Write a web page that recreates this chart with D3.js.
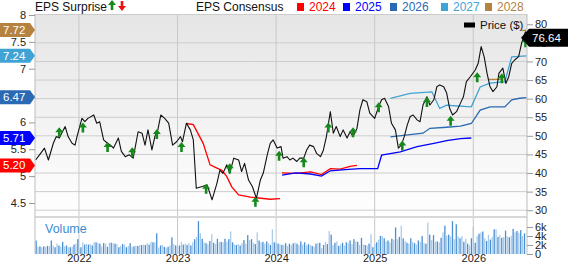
<!DOCTYPE html>
<html>
<head>
<meta charset="utf-8">
<script src="https://cdn.jsdelivr.net/npm/d3@7"></script>
<style>
  body { margin: 0; background: #fff; }
  svg { display: block; font-family: "Liberation Sans", Arial, sans-serif; }
</style>
</head>
<body>
<svg id="chart" width="568" height="264"></svg>
<script>
// price, weekly-ish points: [decimal year, $]
const price = [
  [2021.56,43.5],[2021.60,44.9],[2021.65,46.7],[2021.69,43.5],[2021.74,48.0],[2021.77,49.8],[2021.80,49.4],
  [2021.86,52.5],[2021.89,49.8],[2021.93,48.0],[2021.96,47.5],[2021.98,49.8],[2022.03,54.7],[2022.06,53.8],
  [2022.09,54.7],[2022.15,55.6],[2022.18,53.4],[2022.21,53.8],[2022.25,48.9],[2022.29,48.0],[2022.32,47.5],
  [2022.35,46.7],[2022.40,49.4],[2022.43,45.8],[2022.47,44.4],[2022.51,44.9],[2022.55,44.0],[2022.60,51.1],
  [2022.64,50.7],[2022.67,47.5],[2022.70,51.6],[2022.74,46.2],[2022.77,49.8],[2022.80,51.6],[2022.83,55.6],
  [2022.87,54.7],[2022.91,53.4],[2022.95,47.5],[2022.99,48.4],[2023.03,49.8],[2023.05,48.4],[2023.09,53.4],
  [2023.13,51.6],[2023.16,48.9],[2023.19,35.9],[2023.25,36.4],[2023.30,36.8],[2023.35,32.8],[2023.40,37.3],
  [2023.43,40.8],[2023.46,39.9],[2023.50,42.2],[2023.53,39.9],[2023.57,44.0],[2023.62,43.5],[2023.65,40.4],
  [2023.68,42.6],[2023.72,38.1],[2023.76,36.3],[2023.80,33.2],[2023.84,38.1],[2023.87,40.0],[2023.91,44.9],
  [2023.94,48.0],[2023.97,48.9],[2024.01,46.7],[2024.05,47.1],[2024.07,44.0],[2024.11,44.4],[2024.14,43.5],
  [2024.17,44.0],[2024.21,43.1],[2024.24,44.0],[2024.28,44.0],[2024.31,46.2],[2024.34,47.5],[2024.38,47.1],
  [2024.41,45.3],[2024.45,44.4],[2024.48,46.2],[2024.51,49.8],[2024.55,56.5],[2024.58,50.7],[2024.61,52.5],
  [2024.65,49.8],[2024.68,51.6],[2024.72,49.4],[2024.75,51.1],[2024.78,49.8],[2024.82,52.0],[2024.85,57.0],
  [2024.88,59.7],[2024.92,59.2],[2024.95,56.1],[2025.00,54.7],[2025.04,57.9],[2025.07,59.7],[2025.10,60.1],
  [2025.14,57.9],[2025.17,53.4],[2025.21,51.6],[2025.24,46.7],[2025.27,47.5],[2025.30,49.8],[2025.33,52.9],
  [2025.36,55.2],[2025.39,55.6],[2025.43,54.3],[2025.46,53.8],[2025.49,58.3],[2025.53,60.5],[2025.56,58.3],
  [2025.60,59.7],[2025.63,63.2],[2025.66,63.7],[2025.70,63.2],[2025.73,61.5],[2025.76,57.4],[2025.79,55.6],
  [2025.83,56.5],[2025.87,58.8],[2025.90,60.5],[2025.93,64.6],[2025.97,65.9],[2026.02,67.7],[2026.05,69.5],
  [2026.08,74.0],[2026.11,71.3],[2026.14,66.8],[2026.17,63.2],[2026.20,61.9],[2026.24,63.2],[2026.26,66.8],
  [2026.30,68.2],[2026.33,64.1],[2026.36,65.9],[2026.39,69.5],[2026.42,70.4],[2026.46,71.3],[2026.49,74.9],
  [2026.53,78.0],[2026.54,76.64]
];

// EPS consensus by fiscal year (null = gap)
const eps2024 = [[2023.09,5.98],[2023.16,5.96],[2023.26,5.61],[2023.33,5.21],[2023.40,5.15],[2023.45,5.11],
  [2023.50,4.99],[2023.55,4.80],[2023.62,4.65],[2023.74,4.61],[2023.94,4.57],[2024.04,4.58],null,
  [2024.06,5.06],[2024.20,5.05],[2024.35,5.08],[2024.46,5.03],[2024.55,5.14],[2024.65,5.13],[2024.75,5.18],[2024.82,5.20]];
const eps2025 = [[2024.06,5.02],[2024.20,5.06],[2024.35,5.04],[2024.46,5.00],[2024.55,5.10],[2024.70,5.12],
  [2024.85,5.14],[2025.03,5.14],[2025.07,5.39],[2025.26,5.45],[2025.43,5.55],[2025.60,5.61],[2025.73,5.66],
  [2025.87,5.70],[2025.98,5.71]];
const eps2026 = [[2025.16,5.73],[2025.49,5.80],[2025.56,5.89],[2025.73,5.91],[2025.87,5.93],[2025.98,5.98],
  [2026.07,6.23],[2026.17,6.29],[2026.32,6.29],[2026.39,6.42],[2026.47,6.45],[2026.54,6.46]];
const eps2027 = [[2025.16,6.45],[2025.36,6.54],[2025.58,6.57],[2025.66,6.26],[2025.73,6.32],[2025.98,6.29],
  [2026.07,6.66],[2026.17,6.73],[2026.32,6.76],[2026.39,7.22],[2026.54,7.24]];
const eps2028 = [[2026.15,6.80],[2026.30,6.80],null,[2026.49,7.71],[2026.54,7.72]];

const epsYears = ["2024", "2025", "2026", "2027", "2028"];
const epsColors = ["#ff0000", "#0000ff", "#2a69b4", "#3fa3d6", "#b5823f"];
const epsLatest = [5.20, 5.71, 6.47, 7.24, 7.72];

// EPS surprise arrows (all beats): [date, price level]
const surprises = [[2021.80,50.7],[2022.04,52.0],[2022.29,46.7],[2022.54,45.3],[2022.79,50.2],[2023.04,46.7],
  [2023.29,35.5],[2023.53,41.0],[2023.79,32.0],[2024.03,44.4],[2024.28,42.6],[2024.53,52.0],[2024.78,50.7],
  [2025.04,57.4],[2025.28,47.1],[2025.53,58.8],[2025.77,53.8],[2026.04,65.5],[2026.29,65.2],[2026.53,74.9]];

// weekly volume in thousands, one block per year
const vol2021 = [3.0,1.6,1.7,1.5,1.7,1.6,1.8,1.7,3.0,1.9,1.5,2.3,1.9,1.6,2.7,1.7,1.9,1.5,1.5,1.6,2.1,2.3,3.3];
const vol2022 = [1.2,1.5,2.6,2.1,2.2,2.1,2.2,1.9,2.6,2.6,2.4,2.3,1.7,2.4,2.3,1.6,2.5,2.5,2.4,2.3,
  2.2,1.5,1.8,2.2,2.1,1.5,1.8,2.4,1.6,1.7,1.8,1.8,2.0,2.0,2.1,2.0,2.4,2.1,2.7,2.6,
  2.6,4.6,1.4,1.9,2.0,1.6,1.4,1.6,1.9,3.7,2.2,1.9];
const vol2023 = [1.6,1.9,2.7,2.1,2.3,2.0,2.4,1.9,2.6,3.3,3.8,7.3,4.6,3.4,2.6,2.4,2.2,2.9,4.4,2.5,
  2.2,3.4,2.6,2.7,2.6,3.4,2.7,3.3,5.0,2.6,2.1,2.0,2.2,1.9,2.4,3.1,2.3,4.2,3.1,3.3,
  2.5,2.2,4.8,3.0,2.6,2.7,2.3,2.8,2.4,2.0,5.5,2.6];
const vol2024 = [2.5,2.3,2.2,2.0,2.1,2.4,1.8,2.3,2.0,2.4,2.5,2.3,2.0,2.8,2.1,2.6,1.9,2.2,2.0,1.8,
  1.6,2.3,2.4,2.5,1.3,2.0,2.7,2.2,5.1,4.3,2.0,2.5,2.8,1.8,2.1,2.5,1.9,2.6,2.4,3.0,
  2.2,3.3,2.8,2.7,2.0,3.6,2.1,2.0,1.9,2.3,4.4,1.5];
const vol2025 = [2.2,2.6,3.2,4.0,4.0,3.5,2.8,3.0,2.6,3.4,3.2,5.9,3.3,3.8,6.3,3.5,2.9,2.5,2.3,3.5,
  2.7,2.4,2.1,3.0,2.7,4.0,2.4,2.3,7.0,4.3,3.1,4.2,2.7,2.8,2.6,3.6,4.8,6.3,4.1,4.3,
  3.9,7.3,3.3,6.6,3.9,3.5,4.0,2.7,3.4,2.3,1.9,3.5];
const vol2026 = [6.0,2.5,4.0,4.5,4.8,5.0,3.5,2.9,4.3,3.2,3.8,5.5,5.5,3.8,4.2,3.6,3.8,5.2,3.9,3.7,
  4.0,5.6,4.8,5.1,4.7,5.3,4.0,4.6];
const volStarts = [2021.565, 2022, 2023, 2024, 2025, 2026];

const years = [2022, 2023, 2024, 2025, 2026];
const priceTicks = [30, 35, 40, 45, 50, 55, 60, 65, 70, 75, 80];
const epsTicks = [4.5, 5, 5.5, 6, 6.5, 7, 7.5, 8];
const volTicks = [0, 2, 4, 6];
const lastPrice = 76.64;

// layout
const L = 35, R = 527, T = 14, SEP = 217, B = 254;

const svg = d3.select("#chart");

const x = d3.scaleLinear().domain([2021.554, 2026.545]).range([L, R]);
const yPrice = d3.scaleLinear().domain([30, 80]).range([210.2, 24.3]);
const yEps = d3.scaleLinear().domain([4.5, 8]).range([203, 15]);
const yVol = d3.scaleLinear().domain([0, 6]).range([B, 227]);

// background
const grad = svg.append("defs").append("linearGradient")
    .attr("id", "bg").attr("x1", 0).attr("y1", 0).attr("x2", 0).attr("y2", 1);
grad.append("stop").attr("offset", "0%").attr("stop-color", "#e5e5e5");
grad.append("stop").attr("offset", "100%").attr("stop-color", "#ffffff");

svg.append("rect").attr("x", L).attr("y", T).attr("width", R - L).attr("height", SEP - T)
    .attr("fill", "url(#bg)");

// grid
svg.append("g").selectAll("line")
    .data(priceTicks.filter(d => d < 80))
  .enter().append("line")
    .attr("x1", L).attr("x2", R)
    .attr("y1", d => yPrice(d)).attr("y2", d => yPrice(d))
    .attr("stroke", "#cdcdcd").attr("stroke-width", 1);

svg.append("g").selectAll("line")
    .data(years)
  .enter().append("line")
    .attr("x1", d => x(d)).attr("x2", d => x(d))
    .attr("y1", T).attr("y2", B)
    .attr("stroke", "#c8c8c8").attr("stroke-width", 1);

svg.append("line").attr("x1", L).attr("x2", R).attr("y1", T + 0.5).attr("y2", T + 0.5)
    .attr("stroke", "#cccccc");
svg.append("line").attr("x1", L).attr("x2", R).attr("y1", SEP).attr("y2", SEP)
    .attr("stroke", "#d8d8d8").attr("stroke-width", 2);

// volume bars
const volBlocks = [vol2021, vol2022, vol2023, vol2024, vol2025, vol2026];
const volData = [];
volBlocks.forEach((arr, b) => arr.forEach((v, i) => volData.push({ t: volStarts[b] + i / 52, v: v, i: volData.length })));

svg.append("g").selectAll("rect")
    .data(volData)
  .enter().append("rect")
    .attr("x", d => x(d.t) - 0.6)
    .attr("y", d => yVol(d.v))
    .attr("width", 1.3)
    .attr("height", d => B - yVol(d.v))
    .attr("fill", d => d.i % 2 ? "#a9cbea" : "#4a8fd2");

svg.append("text").attr("x", 45).attr("y", 233)
    .attr("font-size", 12.5).attr("fill", "#3b8cd3").text("Volume");

// EPS consensus lines
const epsLine = d3.line()
    .defined(d => d)
    .x(d => x(d[0]))
    .y(d => yEps(d[1]));

[eps2024, eps2025, eps2026, eps2027, eps2028].forEach((s, i) => {
  svg.append("path").datum(s)
    .attr("d", epsLine)
    .attr("fill", "none")
    .attr("stroke", epsColors[i])
    .attr("stroke-width", 1.3);
});

// price line
const priceLine = d3.line()
    .x(d => x(d[0]))
    .y(d => yPrice(d[1]));

svg.append("path").datum(price)
    .attr("d", priceLine)
    .attr("fill", "none")
    .attr("stroke", "#111")
    .attr("stroke-width", 1.1)
    .attr("stroke-linejoin", "round");

// surprise arrows
function upArrow(cx, cy) {
  return `M${cx},${cy - 6} L${cx + 4},${cy - 1} L${cx + 1.3},${cy - 1} L${cx + 1.3},${cy + 4}` +
         ` L${cx - 1.3},${cy + 4} L${cx - 1.3},${cy - 1} L${cx - 4},${cy - 1} Z`;
}
function downArrow(cx, cy) {
  return `M${cx},${cy + 6} L${cx + 4},${cy + 1} L${cx + 1.3},${cy + 1} L${cx + 1.3},${cy - 4}` +
         ` L${cx - 1.3},${cy - 4} L${cx - 1.3},${cy + 1} L${cx - 4},${cy + 1} Z`;
}

svg.append("g").selectAll("path")
    .data(surprises)
  .enter().append("path")
    .attr("d", d => upArrow(x(d[0]), yPrice(d[1])))
    .attr("fill", "#15891a");

// frame lines
svg.append("line").attr("x1", L).attr("x2", L).attr("y1", T).attr("y2", B).attr("stroke", "#bdbdbd");
svg.append("line").attr("x1", R).attr("x2", R).attr("y1", T).attr("y2", B).attr("stroke", "#bdbdbd");

// axes
function styleAxis(g) {
  g.select(".domain").remove();
  g.selectAll(".tick line").attr("stroke", "#9a9a9a");
  g.selectAll(".tick text").attr("fill", "#222").attr("font-size", 11)
    .attr("font-family", "'Liberation Sans', Arial, sans-serif");
}

svg.append("g").attr("transform", `translate(${R},0)`)
    .call(d3.axisRight(yPrice).tickValues(priceTicks).tickSize(6).tickPadding(2))
    .call(styleAxis);

svg.append("g").attr("transform", `translate(${R},0)`)
    .call(d3.axisRight(yVol).tickValues(volTicks).tickSize(6).tickPadding(2)
      .tickFormat(d => d ? d + "k" : "0"))
    .call(styleAxis);

svg.append("g").attr("transform", `translate(${L},0)`)
    .call(d3.axisLeft(yEps).tickValues(epsTicks).tickSize(6).tickPadding(3).tickFormat(d3.format("")))
    .call(styleAxis);

svg.append("g").attr("transform", `translate(0,${B})`)
    .call(d3.axisBottom(x).tickValues(years).tickSize(0).tickPadding(1).tickFormat(d3.format("d")))
    .call(styleAxis)
    .selectAll(".tick text").attr("dy", "0.62em");

// left value tags
epsLatest.forEach((v, i) => {
  const yc = yEps(v);
  svg.append("path")
    .attr("d", `M0,${yc - 7} L30,${yc - 7} L35,${yc} L30,${yc + 7} L0,${yc + 7} Z`)
    .attr("fill", epsColors[i]);
  svg.append("text").attr("x", 3).attr("y", yc + 4)
    .attr("font-size", 11.5).attr("fill", "#fff").text(v.toFixed(2));
});

// last price tag
const py = yPrice(lastPrice) + 1;
svg.append("path")
    .attr("d", `M521,${py} L529,${py - 9} L568,${py - 9} L568,${py + 9} L529,${py + 9} Z`)
    .attr("fill", "#000");
svg.append("text").attr("x", 532).attr("y", py + 4)
    .attr("font-size", 11.5).attr("fill", "#fff").text(lastPrice.toFixed(2));

// price legend
svg.append("rect").attr("x", 464).attr("y", 22.5).attr("width", 11).attr("height", 5).attr("fill", "#000");
svg.append("text").attr("x", 480).attr("y", 29).attr("font-size", 11.5).attr("fill", "#111").text("Price ($)");

// top legend
svg.append("text").attr("x", 35).attr("y", 11).attr("font-size", 12).attr("fill", "#111").text("EPS Surprise");
svg.append("path").attr("d", upArrow(112, 6)).attr("fill", "#15891a");
svg.append("path").attr("d", downArrow(122, 5)).attr("fill", "#e81414");

svg.append("text").attr("x", 196).attr("y", 11).attr("font-size", 12).attr("fill", "#111").text("EPS Consensus");
const legendX = [297, 343, 390, 441, 485];
epsYears.forEach((yr, i) => {
  svg.append("rect").attr("x", legendX[i]).attr("y", 3).attr("width", 7).attr("height", 8)
    .attr("fill", epsColors[i]);
  svg.append("text").attr("x", legendX[i] + 12).attr("y", 11)
    .attr("font-size", 12).attr("fill", epsColors[i]).text(yr);
});
</script>
</body>
</html>
